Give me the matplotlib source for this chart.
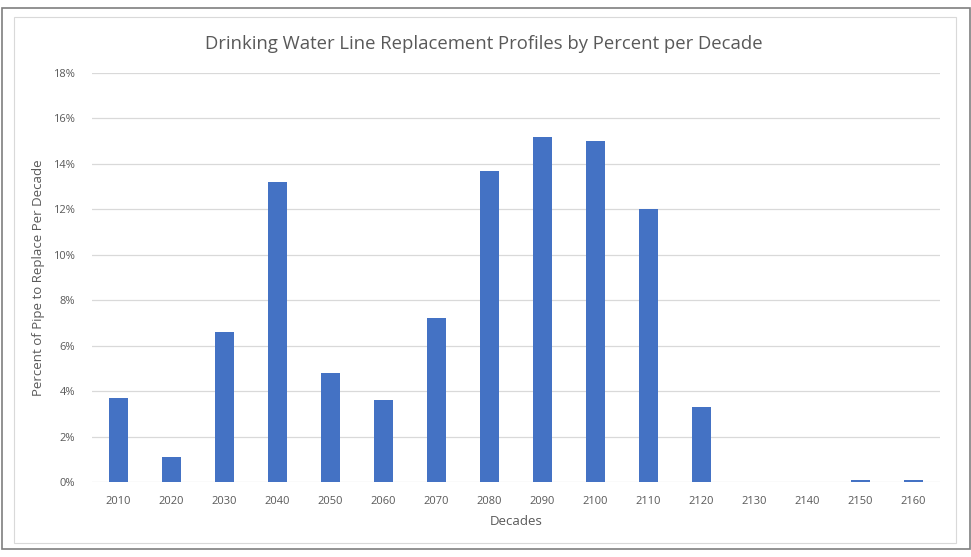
import matplotlib
matplotlib.use('Agg')
import matplotlib.pyplot as plt
from matplotlib.patches import Rectangle
from matplotlib.ticker import PercentFormatter

# Share of pipe to replace in each decade (percent)
decades = ['2010', '2020', '2030', '2040', '2050', '2060', '2070', '2080',
           '2090', '2100', '2110', '2120', '2130', '2140', '2150', '2160']
percent_replaced = [3.7, 1.1, 6.6, 13.2, 4.8, 3.6, 7.2, 13.7,
                    15.2, 15.0, 12.0, 3.3, 0.0, 0.0, 0.1, 0.1]
y_ticks = [0, 2, 4, 6, 8, 10, 12, 14, 16, 18]

plt.rcParams['font.family'] = ['Open Sans', 'DejaVu Sans']
text_gray = '#595959'

fig = plt.figure(figsize=(9.71, 5.57), dpi=100)
W, H = 971, 557

# outer frame and chart-area frame
fig.patches.append(Rectangle((1.5 / W, 1 - 549 / H), 968 / W, 541 / H,
                             transform=fig.transFigure, fill=False,
                             edgecolor='#7f7f7f', linewidth=1.2))
fig.patches.append(Rectangle((14 / W, 1 - 543 / H), 942 / W, 526 / H,
                             transform=fig.transFigure, fill=False,
                             edgecolor='#d9d9d9', linewidth=0.8))

ax = fig.add_axes([92 / W, 75 / H, 848 / W, 409 / H])
x = range(len(decades))
ax.bar(x, percent_replaced, width=0.34, color='#4472C4', zorder=3)

ax.set_xlim(-0.5, len(decades) - 0.5)
ax.set_ylim(0, 18)
ax.set_yticks(y_ticks)
ax.yaxis.set_major_formatter(PercentFormatter(decimals=0))
ax.set_xticks(list(x))
ax.set_xticklabels(decades)
ax.grid(axis='y', color='#d9d9d9', linewidth=0.9, zorder=0)
ax.tick_params(length=0, labelsize=8, labelcolor=text_gray)
ax.tick_params(axis='x', pad=10)
ax.tick_params(axis='y', pad=12)
for side in ['top', 'right', 'left', 'bottom']:
    ax.spines[side].set_visible(False)

ax.set_xlabel('Decades', fontsize=9.5, color=text_gray, labelpad=6)
ax.set_ylabel('Percent of Pipe to Replace Per Decade', fontsize=9.5,
              color=text_gray, labelpad=6)
fig.text(484 / W, 1 - 44 / H,
         'Drinking Water Line Replacement Profiles by Percent per Decade',
         ha='center', va='center', fontsize=13.3, color=text_gray)

fig.savefig('out.png', dpi=100)
